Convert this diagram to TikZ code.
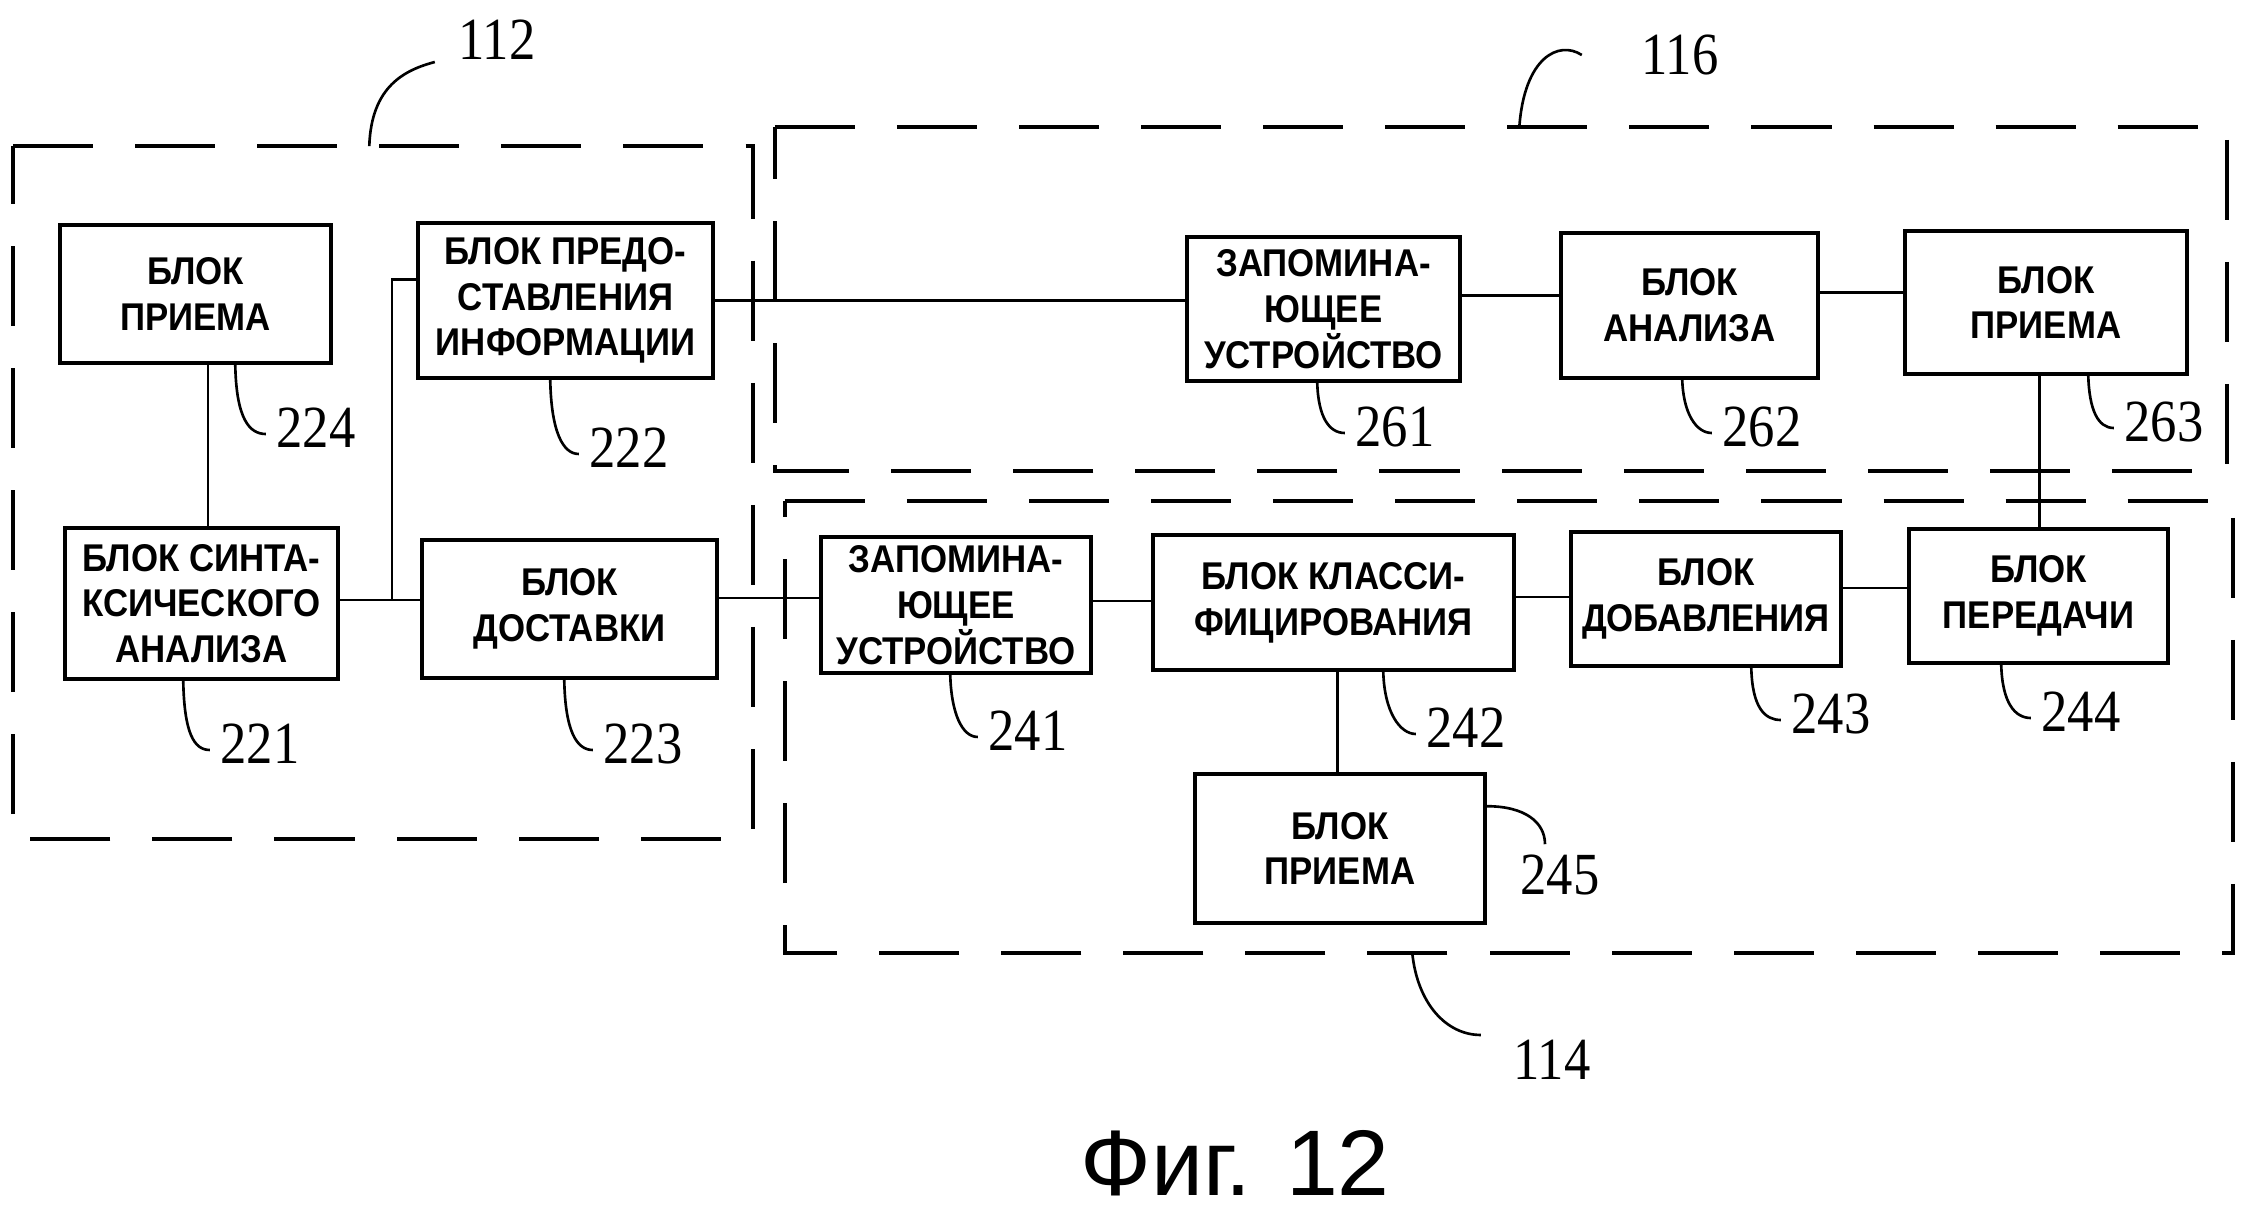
\documentclass[tikz,border=0pt]{standalone}
\usepackage{fontspec}
\setmainfont{Liberation Sans}
\newfontfamily\boxfont{Liberation Sans}[FakeStretch=0.9]
\newfontfamily\numfont{Liberation Serif}[FakeStretch=0.88]
\begin{document}
\begin{tikzpicture}[x=0.01cm, y=-0.01cm,
  blk/.style={draw, line width=1pt, inner sep=0pt, align=center,
    font=\boxfont\bfseries\fontsize{11}{13}\selectfont},
  grpbox/.style={inner sep=0pt},
  grp/.style={line width=1.2pt, dash pattern=on 0.8cm off 0.42cm},
  num/.style={inner sep=0pt, font=\numfont\fontsize{17}{17}\selectfont},
  wire/.style={line width=0.85pt},
  lead/.style={line width=0.75pt}]
\useasboundingbox (0,0) rectangle (2257,1219);

% dashed groups
\node[grpbox, minimum width=7.38cm, minimum height=6.91cm] (g112) at (383,492.5) {};
\node[grpbox, minimum width=14.50cm, minimum height=3.42cm] (g116) at (1501,299) {};
\node[grpbox, minimum width=14.46cm, minimum height=4.50cm] (g114) at (1509,727) {};
\draw[grp] (g112.north west) -- (g112.north east) -- (g112.south east) -- (g112.south west) -- cycle;
\draw[grp] (g116.north west) -- (g116.north east) -- (g116.south east) -- (g116.south west) -- cycle;
\draw[grp] (g114.north west) -- (g114.north east) -- (g114.south east) -- (g114.south west) -- cycle;

% blocks
\node[blk, minimum width=2.71cm, minimum height=1.38cm] (b224) at (195.5,294) {БЛОК\\ПРИЕМА};
\node[blk, minimum width=2.95cm, minimum height=1.55cm] (b222) at (565.5,300.5) {БЛОК ПРЕДО-\\СТАВЛЕНИЯ\\ИНФОРМАЦИИ};
\node[blk, minimum width=2.73cm, minimum height=1.51cm] (b221) at (201.5,603.5) {БЛОК СИНТА-\\КСИЧЕСКОГО\\АНАЛИЗА};
\node[blk, minimum width=2.95cm, minimum height=1.38cm] (b223) at (569.5,609) {БЛОК\\ДОСТАВКИ};
\node[blk, minimum width=2.73cm, minimum height=1.44cm] (b261) at (1323.5,309) {ЗАПОМИНА-\\ЮЩЕЕ\\УСТРОЙСТВО};
\node[blk, minimum width=2.57cm, minimum height=1.45cm] (b262) at (1689.5,305.5) {БЛОК\\АНАЛИЗА};
\node[blk, minimum width=2.82cm, minimum height=1.43cm] (b263) at (2046,302.5) {БЛОК\\ПРИЕМА};
\node[blk, minimum width=2.70cm, minimum height=1.36cm] (b241) at (956,605) {ЗАПОМИНА-\\ЮЩЕЕ\\УСТРОЙСТВО};
\node[blk, minimum width=3.61cm, minimum height=1.35cm] (b242) at (1333.5,602.5) {БЛОК КЛАССИ-\\ФИЦИРОВАНИЯ};
\node[blk, minimum width=2.90cm, minimum height=1.49cm] (b245) at (1340,848.5) {БЛОК\\ПРИЕМА};
\node[blk, minimum width=2.70cm, minimum height=1.34cm] (b243) at (1706,599) {БЛОК\\ДОБАВЛЕНИЯ};
\node[blk, minimum width=2.59cm, minimum height=1.34cm] (b244) at (2038.5,596) {БЛОК\\ПЕРЕДАЧИ};

% connectors
\coordinate (c1) at (208,450);
\draw[wire] (b224.south -| c1) -- (b221.north -| c1);
\coordinate (j1) at (392,600);
\coordinate (j2) at (392,280);
\draw[wire] (b221.east |- j1) -- (b223.west |- j1);
\draw[wire] (j1) -- (j2) -- (b222.west |- j2);
\coordinate (h1) at (0,301);
\draw[wire] (b222.east |- h1) -- (b261.west |- h1);
\coordinate (h2) at (0,598);
\draw[wire] (b223.east |- h2) -- (b241.west |- h2);
\coordinate (h3) at (0,296);
\draw[wire] (b261.east |- h3) -- (b262.west |- h3);
\coordinate (h4) at (0,293);
\draw[wire] (b262.east |- h4) -- (b263.west |- h4);
\coordinate (v1) at (2039,0);
\draw[wire] (b263.south -| v1) -- (b244.north -| v1);
\coordinate (h5) at (0,601);
\draw[wire] (b241.east |- h5) -- (b242.west |- h5);
\coordinate (h6) at (0,597);
\draw[wire] (b242.east |- h6) -- (b243.west |- h6);
\coordinate (h7) at (0,588);
\draw[wire] (b243.east |- h7) -- (b244.west |- h7);
\coordinate (v2) at (1337,0);
\draw[wire] (b242.south -| v2) -- (b245.north -| v2);

% reference numbers
\node[num] (n224) at (316,428) {224};
\node[num] (n222) at (629,448) {222};
\node[num] (n221) at (260,744) {221};
\node[num] (n223) at (643,744) {223};
\node[num] (n261) at (1395,427) {261};
\node[num] (n262) at (1762,427) {262};
\node[num] (n263) at (2164,422) {263};
\node[num] (n241) at (1028,731) {241};
\node[num] (n242) at (1466,728) {242};
\node[num] (n243) at (1831,714) {243};
\node[num] (n244) at (2081,712) {244};
\node[num] (n245) at (1560,875) {245};
\node[num] (n112) at (497,40) {112};
\node[num] (n116) at (1680,55) {116};
\node[num] (n114) at (1552,1060) {114};

% leader curves
\draw[lead] ([xshift=1.77cm]b224.south west) .. controls +(1,55) and +(-16,0) .. ([xshift=-0.1cm,yshift=-0.06cm]n224.west);
\draw[lead] ([xshift=1.34cm]b222.south west) .. controls +(1,52) and +(-16,0) .. ([xshift=-0.1cm,yshift=-0.06cm]n222.west);
\draw[lead] ([xshift=1.20cm]b221.south west) .. controls +(1,52) and +(-16,0) .. ([xshift=-0.1cm,yshift=-0.06cm]n221.west);
\draw[lead] ([xshift=1.44cm]b223.south west) .. controls +(1,52) and +(-16,0) .. ([xshift=-0.1cm,yshift=-0.06cm]n223.west);
\draw[lead] ([xshift=1.32cm]b261.south west) .. controls +(1,34) and +(-16,0) .. ([xshift=-0.1cm,yshift=-0.06cm]n261.west);
\draw[lead] ([xshift=1.23cm]b262.south west) .. controls +(1,33) and +(-16,0) .. ([xshift=-0.1cm,yshift=-0.06cm]n262.west);
\draw[lead] ([xshift=1.85cm]b263.south west) .. controls +(1,34) and +(-16,0) .. ([xshift=-0.1cm,yshift=-0.06cm]n263.west);
\draw[lead] ([xshift=1.31cm]b241.south west) .. controls +(1,38) and +(-16,0) .. ([xshift=-0.1cm,yshift=-0.06cm]n241.west);
\draw[lead] ([xshift=2.32cm]b242.south west) .. controls +(1,40) and +(-16,0) .. ([xshift=-0.1cm,yshift=-0.06cm]n242.west);
\draw[lead] ([xshift=1.82cm]b243.south west) .. controls +(1,40) and +(-16,0) .. ([xshift=-0.1cm,yshift=-0.06cm]n243.west);
\draw[lead] ([xshift=0.94cm]b244.south west) .. controls +(1,38) and +(-16,0) .. ([xshift=-0.1cm,yshift=-0.06cm]n244.west);
\draw[lead] ([yshift=-0.34cm]b245.north east) .. controls +(38,0) and +(0,-22) .. ([xshift=-0.15cm,yshift=0.1cm]n245.north);
\draw[lead] ([xshift=3.56cm]g112.north west) .. controls +(2,-60) and +(-30,8) .. ([xshift=-0.23cm,yshift=-0.22cm]n112.west);
\draw[lead] ([xshift=7.44cm]g116.north west) .. controls +(5,-70) and +(-23,-15) .. ([xshift=-0.59cm]n116.west);
\draw[lead] ([xshift=6.27cm]g114.south west) .. controls +(5,50) and +(-35,0) .. ([xshift=-0.32cm,yshift=0.25cm]n114.west);

% caption
\node[inner sep=0pt, anchor=base, font=\fontsize{26.5}{30}\selectfont] (cap) at (1235,1195) {Фиг. 12};
\end{tikzpicture}
\end{document}
